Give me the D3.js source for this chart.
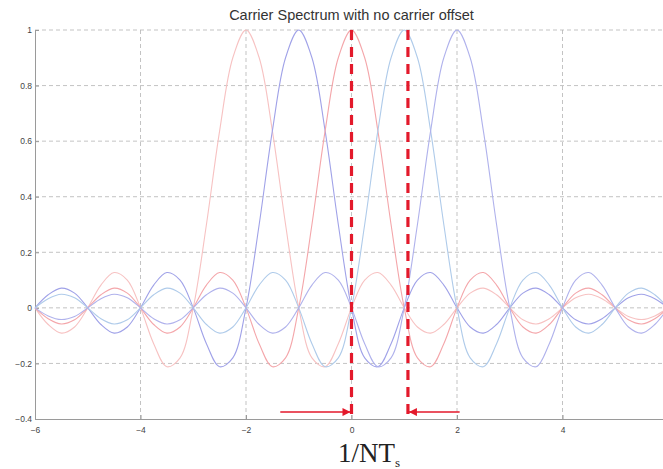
<!DOCTYPE html>
<html>
<head>
<meta charset="utf-8">
<script src="https://cdn.jsdelivr.net/npm/d3@7"></script>
<style>
  body { margin: 0; background: #fff; }
  svg { display: block; }
</style>
</head>
<body>
<script>
// sample positions (1/NTs units) and carrier pulses
const xs = d3.range(-6, 6.001, 0.25);
const xTicks = [-6, -4, -2, 0, 2, 4];
const yTicks = [-0.4, -0.2, 0, 0.2, 0.4, 0.6, 0.8, 1];
const markerX = [0, 1.07];
const arrowSpans = [[-1.35, 0], [2.05, 1.07]];
const arrowY = -0.375;

const carrierM2 = [
  0, -0.060, -0.091, -0.069, 0, 0.082, 0.127, 0.100,
  0, -0.129, -0.212, -0.180, 0, 0.300, 0.637, 0.900,
  1, 0.900, 0.637, 0.300, 0, -0.180, -0.212, -0.129,
  0, 0.100, 0.127, 0.082, 0, -0.069, -0.091, -0.060,
  0, 0.053, 0.071, 0.047, 0, -0.043, -0.058, -0.039,
  0, 0.036, 0.049, 0.033, 0, -0.031, -0.042, -0.029, 0
];
const carrierM1 = [
  0, 0.047, 0.071, 0.053, 0, -0.060, -0.091, -0.069,
  0, 0.082, 0.127, 0.100, 0, -0.129, -0.212, -0.180,
  0, 0.300, 0.637, 0.900, 1, 0.900, 0.637, 0.300,
  0, -0.180, -0.212, -0.129, 0, 0.100, 0.127, 0.082,
  0, -0.069, -0.091, -0.060, 0, 0.053, 0.071, 0.047,
  0, -0.043, -0.058, -0.039, 0, 0.036, 0.049, 0.033, 0
];
const carrier0 = [
  0, -0.039, -0.058, -0.043, 0, 0.047, 0.071, 0.053,
  0, -0.060, -0.091, -0.069, 0, 0.082, 0.127, 0.100,
  0, -0.129, -0.212, -0.180, 0, 0.300, 0.637, 0.900,
  1, 0.900, 0.637, 0.300, 0, -0.180, -0.212, -0.129,
  0, 0.100, 0.127, 0.082, 0, -0.069, -0.091, -0.060,
  0, 0.053, 0.071, 0.047, 0, -0.043, -0.058, -0.039, 0
];
const carrierP1 = [
  0, 0.033, 0.049, 0.036, 0, -0.039, -0.058, -0.043,
  0, 0.047, 0.071, 0.053, 0, -0.060, -0.091, -0.069,
  0, 0.082, 0.127, 0.100, 0, -0.129, -0.212, -0.180,
  0, 0.300, 0.637, 0.900, 1, 0.900, 0.637, 0.300,
  0, -0.180, -0.212, -0.129, 0, 0.100, 0.127, 0.082,
  0, -0.069, -0.091, -0.060, 0, 0.053, 0.071, 0.047, 0
];
const carrierP2 = [
  0, -0.029, -0.042, -0.031, 0, 0.033, 0.049, 0.036,
  0, -0.039, -0.058, -0.043, 0, 0.047, 0.071, 0.053,
  0, -0.060, -0.091, -0.069, 0, 0.082, 0.127, 0.100,
  0, -0.129, -0.212, -0.180, 0, 0.300, 0.637, 0.900,
  1, 0.900, 0.637, 0.300, 0, -0.180, -0.212, -0.129,
  0, 0.100, 0.127, 0.082, 0, -0.069, -0.091, -0.060, 0
];

const series = [
  { values: carrierM2, color: "#f7c2c2" },
  { values: carrierM1, color: "#a0a2e8" },
  { values: carrier0, color: "#f4a6aa" },
  { values: carrierP1, color: "#afcbea" },
  { values: carrierP2, color: "#b0b2ec" }
];

const W = 663, H = 469;
const margin = { top: 30, left: 35, right: -5, bottom: 50 };

const x = d3.scaleLinear().domain([-6, 6]).range([margin.left, W - margin.right]);
const y = d3.scaleLinear().domain([-0.4, 1]).range([H - margin.bottom, margin.top]);

const svg = d3.select("body").append("svg")
  .attr("width", W)
  .attr("height", H);

// grid
svg.append("g")
  .selectAll("line")
  .data(yTicks.filter((d) => d > -0.4))
  .join("line")
  .attr("x1", x(-6)).attr("x2", x(6))
  .attr("y1", (d) => y(d)).attr("y2", (d) => y(d))
  .attr("stroke", "#b4b4b4")
  .attr("stroke-width", 0.8)
  .attr("stroke-dasharray", "4,3");

svg.append("g")
  .selectAll("line")
  .data(xTicks.filter((d) => d > -6))
  .join("line")
  .attr("x1", (d) => x(d)).attr("x2", (d) => x(d))
  .attr("y1", y(-0.4)).attr("y2", y(1))
  .attr("stroke", "#b4b4b4")
  .attr("stroke-width", 0.8)
  .attr("stroke-dasharray", "4,3");

// axes
const xAxis = svg.append("g")
  .attr("transform", "translate(0," + y(-0.4) + ")")
  .call(d3.axisBottom(x).tickValues(xTicks).tickSize(-4).tickPadding(8).tickFormat(d3.format("d")));
const yAxis = svg.append("g")
  .attr("transform", "translate(" + x(-6) + ",0)")
  .call(d3.axisLeft(y).tickValues(yTicks).tickSize(-4).tickPadding(3).tickFormat((d) => d === 0 || d === 1 ? d : d3.format(".1f")(d)));

[xAxis, yAxis].forEach((g) => {
  g.selectAll("path.domain").attr("stroke", "#9a9a9a").attr("stroke-width", 1);
  g.selectAll(".tick line").attr("stroke", "#9a9a9a");
  g.selectAll(".tick text")
    .attr("fill", "#444")
    .style("font-family", "Liberation Sans, Arial, sans-serif")
    .style("font-size", "8.5px");
});

// carriers
const line = d3.line()
  .x((d, i) => x(xs[i]))
  .y((d) => y(d))
  .curve(d3.curveCatmullRom);

svg.append("g")
  .selectAll("path")
  .data(series)
  .join("path")
  .attr("fill", "none")
  .attr("stroke", (d) => d.color)
  .attr("stroke-width", 1.1)
  .attr("d", (d) => line(d.values));

// red dashed markers
svg.append("g")
  .selectAll("line")
  .data(markerX)
  .join("line")
  .attr("x1", (d) => x(d)).attr("x2", (d) => x(d))
  .attr("y1", y(1)).attr("y2", y(-0.4))
  .attr("stroke", "#e3192b")
  .attr("stroke-width", 3.2)
  .attr("stroke-dasharray", "10,7");

// arrows
svg.append("defs").append("marker")
  .attr("id", "head")
  .attr("viewBox", "0 0 10 10")
  .attr("refX", 10).attr("refY", 5)
  .attr("markerWidth", 10).attr("markerHeight", 8)
  .attr("markerUnits", "userSpaceOnUse")
  .attr("orient", "auto")
  .append("path")
  .attr("d", "M0,0L10,5L0,10Z")
  .attr("fill", "#e3192b");

svg.append("g")
  .selectAll("line")
  .data(arrowSpans)
  .join("line")
  .attr("x1", (d) => x(d[0])).attr("x2", (d) => x(d[1]) + (d[0] < d[1] ? -1 : 1))
  .attr("y1", y(arrowY)).attr("y2", y(arrowY))
  .attr("stroke", "#e3192b")
  .attr("stroke-width", 1.5)
  .attr("marker-end", "url(#head)");

// title
svg.append("text")
  .attr("x", x(0))
  .attr("y", 20)
  .attr("text-anchor", "middle")
  .attr("fill", "#333")
  .style("font-family", "Liberation Sans, Arial, sans-serif")
  .style("font-size", "14.5px")
  .text("Carrier Spectrum with no carrier offset");

// x label
const xl = svg.append("text")
  .attr("x", 369)
  .attr("y", 462)
  .attr("text-anchor", "middle")
  .attr("fill", "#222")
  .style("font-family", "Liberation Serif, Times New Roman, serif")
  .style("font-size", "27px");
xl.append("tspan").text("1/NT");
xl.append("tspan").attr("dy", 5).style("font-size", "13px").text("s");
</script>
</body>
</html>
